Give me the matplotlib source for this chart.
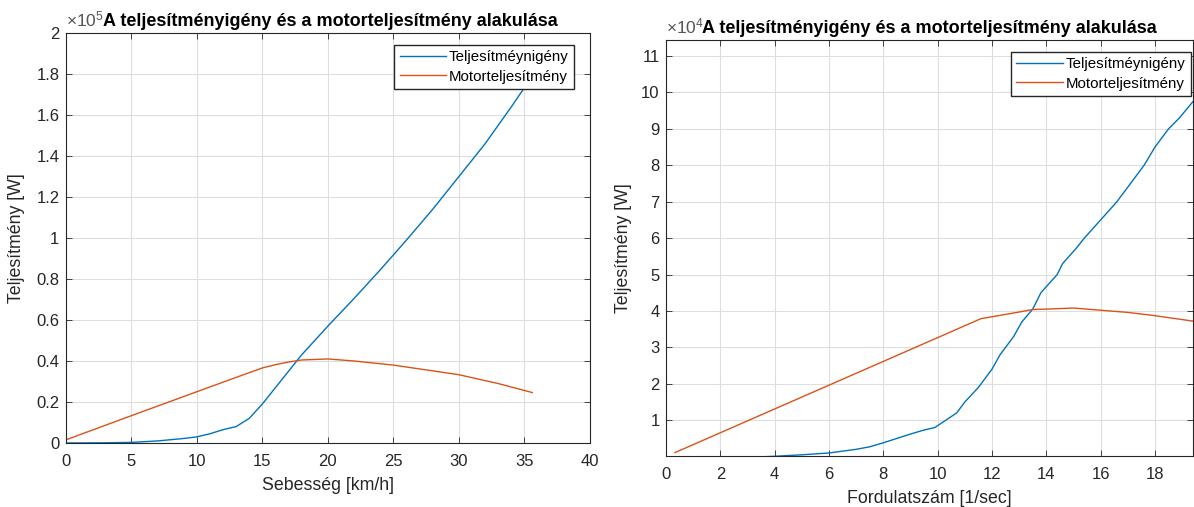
import matplotlib
matplotlib.use("Agg")
import matplotlib.pyplot as plt
from matplotlib.ticker import FuncFormatter

# bal oldali diagram: sebesség [km/h]
seb_igeny = [0, 3, 5, 7, 9, 10, 11, 12, 13, 14, 15, 16, 17, 18, 19, 20, 22, 24, 26, 28, 30, 32, 34, 35.6]
p_igeny_1 = [0, 0.001, 0.003, 0.01, 0.022, 0.03, 0.045, 0.065, 0.08, 0.12, 0.19, 0.27, 0.35, 0.43, 0.50, 0.57,
             0.705, 0.845, 0.99, 1.14, 1.30, 1.46, 1.64, 1.79]
seb_motor = [0, 5, 10, 13, 15, 16, 17, 18, 20, 22, 25, 28, 30, 33, 35.6]
p_motor_1 = [0.015, 0.133, 0.25, 0.32, 0.366, 0.382, 0.395, 0.405, 0.41, 0.40, 0.38, 0.352, 0.333, 0.29, 0.246]

# jobb oldali diagram: fordulatszám [1/sec]
ford_igeny = [3.7, 4, 5, 6, 7, 7.5, 8, 8.5, 9, 9.5, 9.9, 10.3, 10.7, 11, 11.5, 12, 12.3, 12.8, 13.1, 13.5, 13.8, 14.4, 14.6, 15.1,
              15.4, 16.0, 16.6, 17.1, 17.6, 18.0, 18.5, 18.9, 19.4]
p_igeny_2 = [0.0, 0.01, 0.05, 0.1, 0.2, 0.27, 0.38, 0.5, 0.62, 0.73, 0.8, 1.0, 1.2, 1.5, 1.9, 2.4, 2.8, 3.3, 3.7, 4.05, 4.5, 5.0, 5.3, 5.72,
             6.0, 6.5, 7.0, 7.5, 8.0, 8.5, 9.0, 9.3, 9.75]
ford_motor = [0.33, 11.6, 12, 13, 13.5, 14, 15, 16, 17, 18, 19.4]
p_motor_2 = [0.11, 3.79, 3.84, 3.97, 4.04, 4.05, 4.08, 4.02, 3.96, 3.87, 3.72]

kek = "#0072BD"
narancs = "#D95319"
szurke = "#262626"
cim = "A teljesítményigény és a motorteljesítmény alakulása"

plt.rcParams["font.family"] = ["Liberation Sans", "DejaVu Sans"]

W, H = 1194, 507
fig = plt.figure(figsize=(W / 100, H / 100), dpi=100)
# tengelyek pixelben: bal, jobb, felső, alsó
ax1 = fig.add_axes([65.7 / W, (H - 443) / H, (590 - 65.7) / W, (443 - 33) / H])
ax2 = fig.add_axes([666 / W, (H - 456) / H, (1193 - 666) / W, (456 - 40) / H])


def matlab_stilus(ax, szorzo, kitevo, cim_x, leg_x, leg_y):
    ax.grid(True, color="#dedede", linewidth=0.8)
    ax.set_axisbelow(True)
    for s in ax.spines.values():
        s.set_color(szurke)
        s.set_linewidth(0.8)
    ax.tick_params(direction="in", top=True, right=True, labelsize=12, colors=szurke,
                   length=4, width=0.6)
    ax.tick_params(axis="x", pad=8)
    ax.tick_params(axis="y", pad=4.5)
    ax.yaxis.set_major_formatter(FuncFormatter(lambda v, p: "%g" % round(v / szorzo, 6)))
    ax.annotate(r"$\mathregular{\times10^{%d}}$" % kitevo, xy=(0, 1), xycoords="axes fraction",
                xytext=(0, 5), textcoords="offset points", ha="left", va="baseline",
                fontsize=12.5, color="#555555")
    ax.annotate(cim, xy=(cim_x, 1), xycoords="axes fraction", xytext=(0, 5),
                textcoords="offset points", ha="left", va="baseline", fontsize=13,
                fontweight="bold", color="black")
    ax.legend(loc="upper right", bbox_to_anchor=(leg_x, leg_y), fontsize=10.8, fancybox=False,
              edgecolor=szurke, framealpha=1, handlelength=3.1, handletextpad=0.2,
              borderpad=0.35, labelspacing=0.35, borderaxespad=0)


ax1.plot(seb_igeny, [v * 1e5 for v in p_igeny_1], color=kek, lw=1, label="Teljesítméynigény")
ax1.plot(seb_motor, [v * 1e5 for v in p_motor_1], color=narancs, lw=1, label="Motorteljesítmény")
ax1.set_xlim(0, 40)
ax1.set_ylim(0, 2e5)
ax1.set_xticks(range(0, 41, 5))
ax1.set_yticks([i * 0.2e5 for i in range(11)])
matlab_stilus(ax1, 1e5, 5, 0.072, 0.9695, 0.9707)
ax1.set_xlabel("Sebesség [km/h]", fontsize=12.8, color=szurke, labelpad=6)
ax1.set_ylabel("Teljesítmény [W]", fontsize=12.8, color=szurke, labelpad=8)

ax2.plot(ford_igeny, [v * 1e4 for v in p_igeny_2], color=kek, lw=1, label="Teljesítméynigény")
ax2.plot(ford_motor, [v * 1e4 for v in p_motor_2], color=narancs, lw=1, label="Motorteljesítmény")
ax2.set_xlim(0, 19.4)
ax2.set_ylim(0.017e4, 11.44e4)
ax2.set_xticks(range(0, 19, 2))
ax2.set_yticks([i * 1e4 for i in range(1, 12)])
matlab_stilus(ax2, 1e4, 4, 0.068, 0.996, 0.971)
ax2.set_xlabel("Fordulatszám [1/sec]", fontsize=12.8, color=szurke, labelpad=6)
ax2.set_ylabel("Teljesítmény [W]", fontsize=12.8, color=szurke, labelpad=7)

fig.savefig("out.png", dpi=100)
